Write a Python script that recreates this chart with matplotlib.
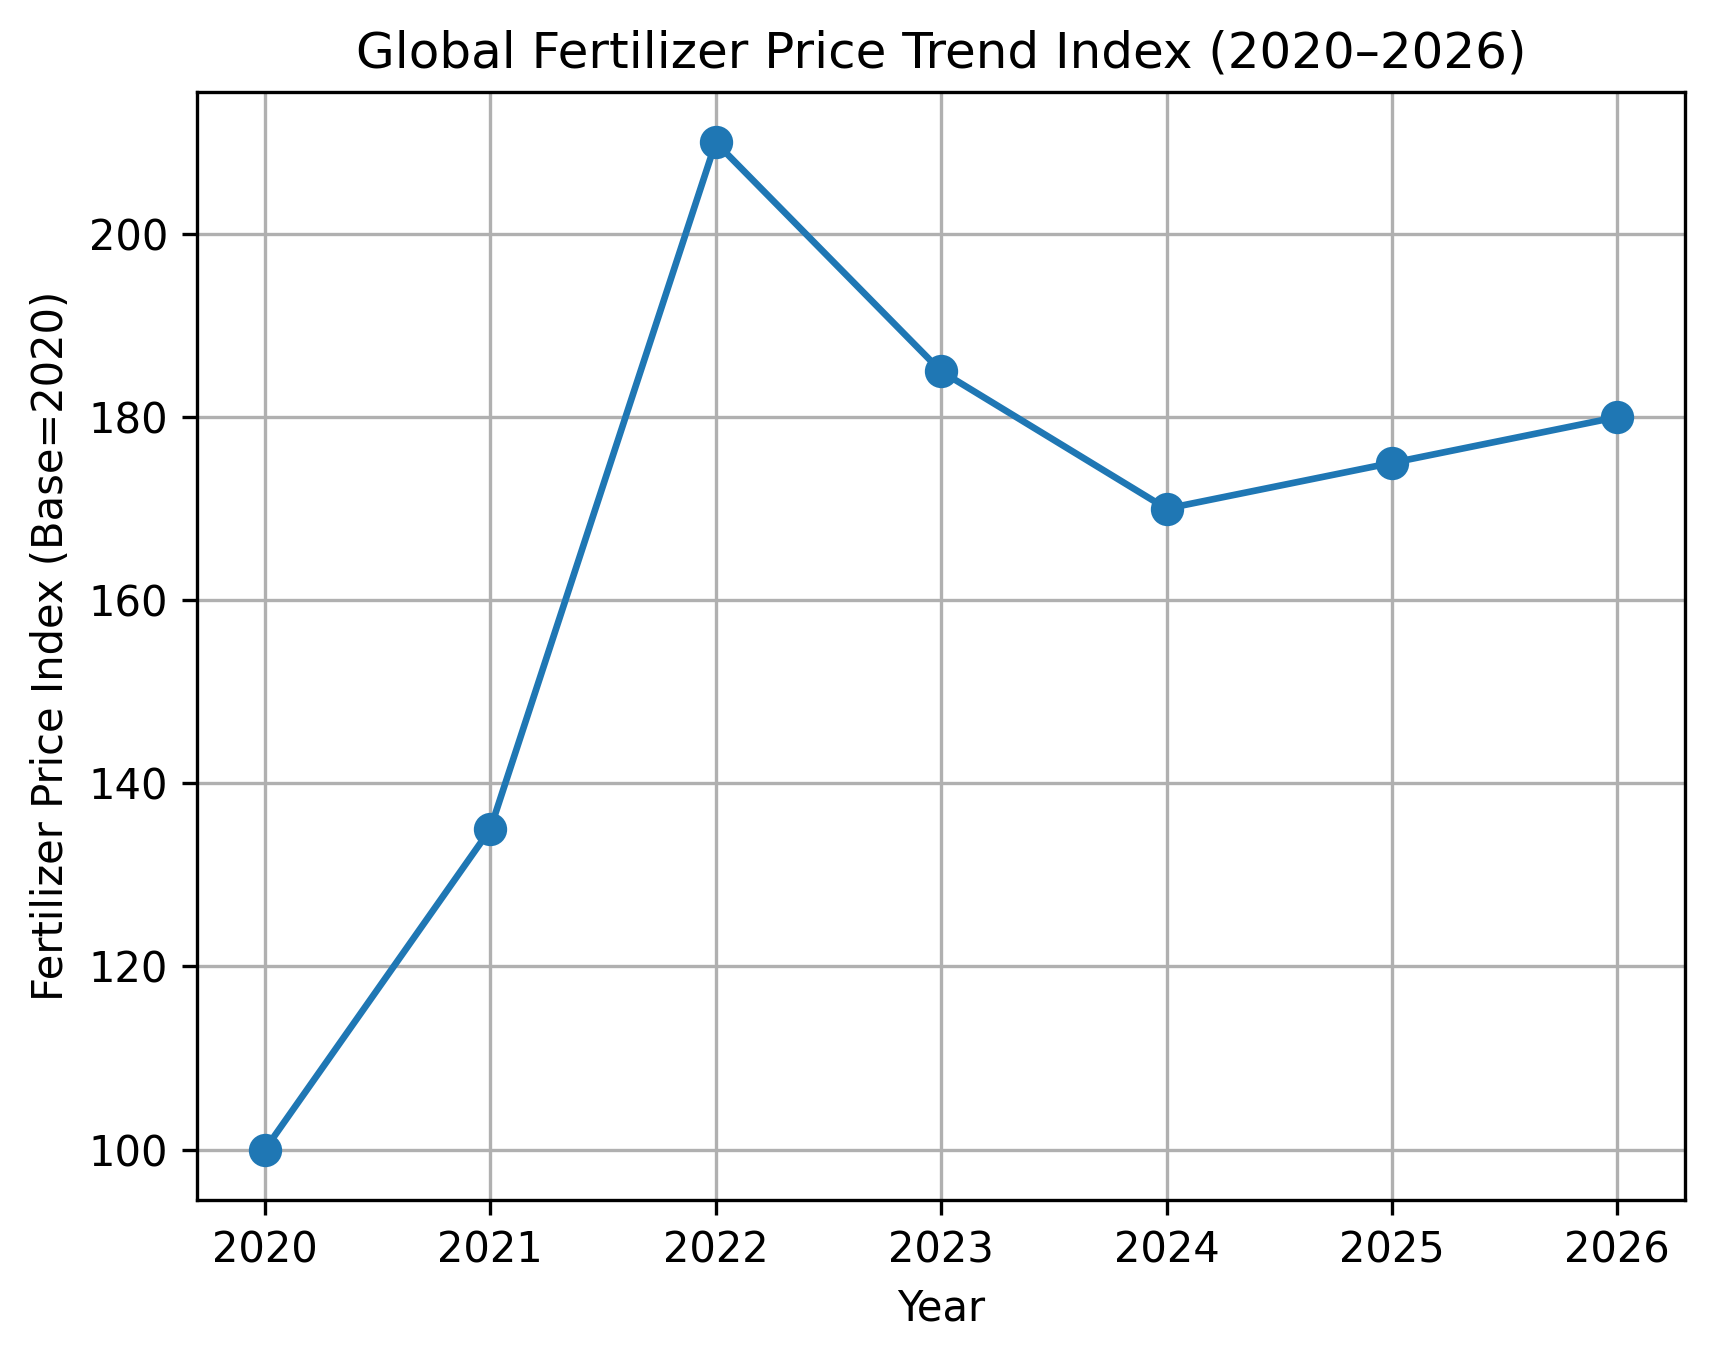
import matplotlib
matplotlib.use("Agg")
import matplotlib.pyplot as plt

years = [2020, 2021, 2022, 2023, 2024, 2025, 2026]
index_values = [100, 135, 210, 185, 170, 175, 180]

fig, ax = plt.subplots(figsize=(1715 / 300, 1361 / 300), dpi=300)
ax.plot(years, index_values, marker="o", color="#1f77b4", linewidth=1.6, markersize=7)
ax.set_title("Global Fertilizer Price Trend Index (2020\u20132026)")
ax.set_xlabel("Year")
ax.set_ylabel("Fertilizer Price Index (Base=2020)")
ax.set_xticks(years)
ax.grid(True)
fig.subplots_adjust(left=0.115, right=0.9825, top=0.9324, bottom=0.1183)
fig.savefig("out.png", dpi=300)
